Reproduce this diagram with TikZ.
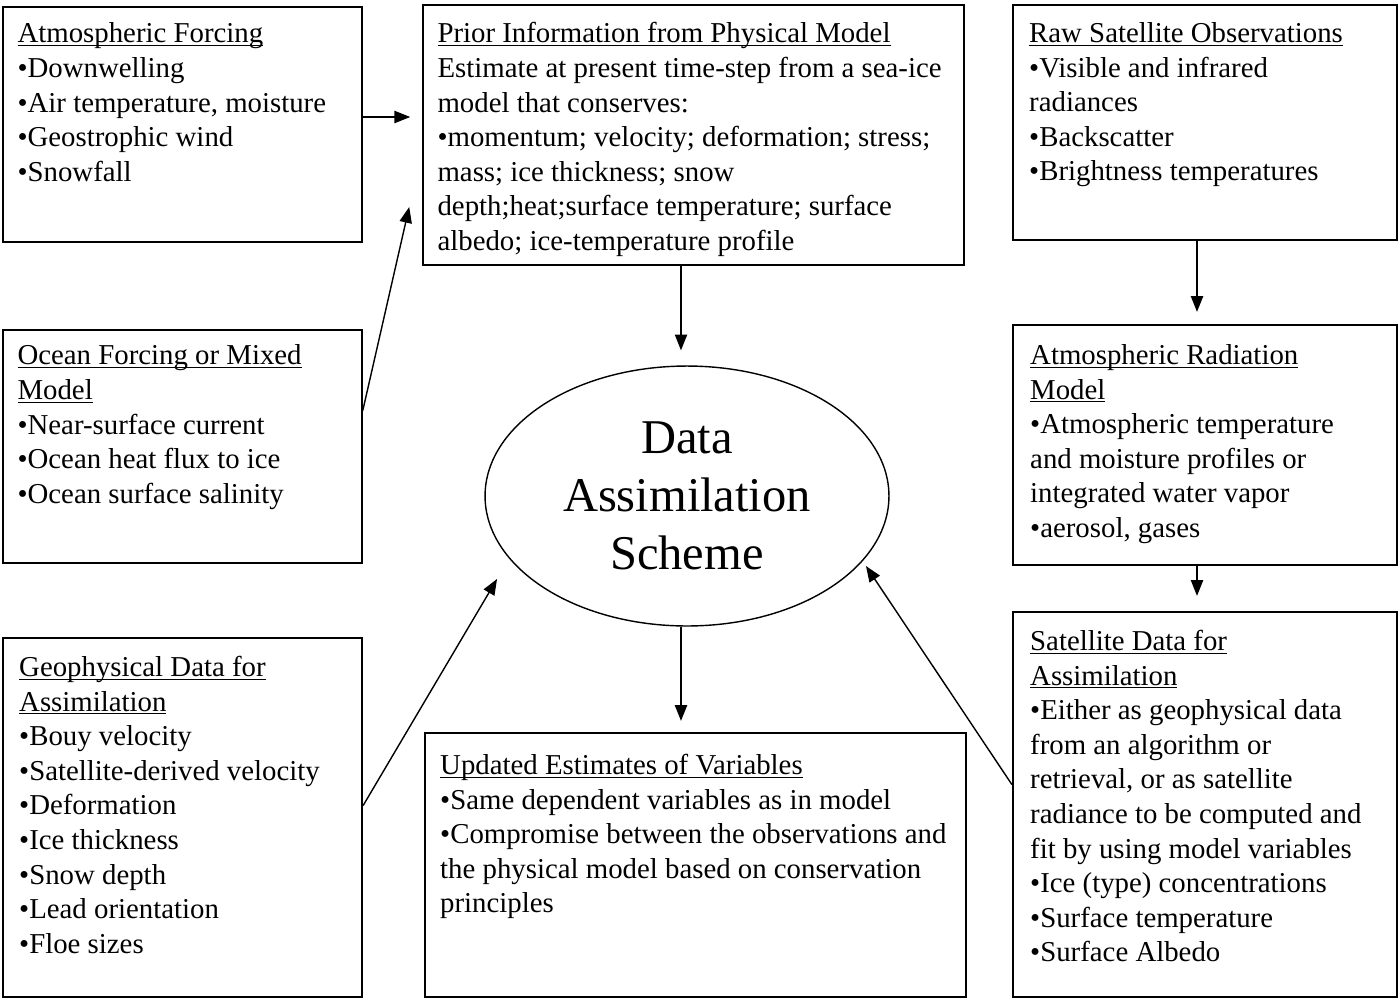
\documentclass[tikz,border=0pt]{standalone}
\usepackage{fontspec}
\setmainfont{Liberation Serif}
\usepackage{tikz}
\usetikzlibrary{shapes.geometric,arrows.meta,positioning,fit}

\newcommand{\hdr}[1]{\underline{\smash{#1}}}

\begin{document}
\begin{tikzpicture}[x=0.02cm, y=-0.02cm, >={Triangle[length=9pt,width=7pt]},
    box/.style={draw, line width=1.3pt, inner sep=0pt},
    thinbox/.style={draw, line width=0.9pt, inner sep=0pt},
    txt/.style={inner sep=0pt, align=left, font=\fontsize{16.4}{19.7}\selectfont},
    flow/.style={->, line width=0.8pt}]
  % page 1400 x 1002 px
  \useasboundingbox (0,0) rectangle (1400,1002);

  % boxes
  \node[thinbox, fit={(3,7) (362,242)}] (atm) {};
  \node[thinbox, fit={(423,5) (964,265)}] (prior) {};
  \node[box, fit={(1013,5) (1397,240)}] (raw) {};
  \node[thinbox, fit={(3,330) (362,563)}] (ocean) {};
  \node[box, fit={(1013,325) (1397,565)}] (atmrad) {};
  \node[box, fit={(3,638) (362,997)}] (geo) {};
  \node[box, fit={(425,733) (966,997)}] (upd) {};
  \node[box, fit={(1013,612) (1397,997)}] (sat) {};

  % central scheme
  \node[ellipse, draw, line width=0.8pt, minimum width=8.08cm, minimum height=5.2cm,
        inner sep=0pt, align=center, font=\fontsize{27.6}{33.2}\selectfont]
        (dasx) at (687,496) {Data\\Assimilation\\Scheme};

  % box texts
  \node[txt, below right=0.24cm and 0.3cm of atm.north west] (atmtxt)
    {\strut\hdr{Atmospheric Forcing}\\\textbullet Downwelling\\\textbullet Air temperature, moisture\\
     \textbullet Geostrophic wind\\\textbullet Snowfall};
  \node[txt, below right=0.28cm and 0.3cm of prior.north west] (priortxt)
    {\strut\hdr{Prior Information from Physical Model}\\Estimate at present time-step from a sea-ice\\
     model that conserves:\\\textbullet momentum; velocity; deformation; stress;\\mass; ice thickness; snow\\
     depth;heat;surface temperature; surface\\albedo; ice-temperature profile};
  \node[txt, below right=0.28cm and 0.34cm of raw.north west] (rawtxt)
    {\strut\hdr{Raw Satellite Observations}\\\textbullet Visible and infrared\\radiances\\
     \textbullet Backscatter\\\textbullet Brightness temperatures};
  \node[txt, below right=0.22cm and 0.3cm of ocean.north west] (oceantxt)
    {\strut\hdr{Ocean Forcing or Mixed}\\\hdr{Model}\\\textbullet Near-surface current\\
     \textbullet Ocean heat flux to ice\\\textbullet Ocean surface salinity};
  \node[txt, below right=0.32cm and 0.36cm of atmrad.north west] (atmradtxt)
    {\strut\hdr{Atmospheric Radiation}\\\hdr{Model}\\\textbullet Atmospheric temperature\\
     and moisture profiles or\\integrated water vapor\\\textbullet aerosol, gases};
  \node[txt, below right=0.3cm and 0.34cm of geo.north west] (geotxt)
    {\strut\hdr{Geophysical Data for}\\\hdr{Assimilation}\\\textbullet Bouy velocity\\
     \textbullet Satellite-derived velocity\\\textbullet Deformation\\\textbullet Ice thickness\\
     \textbullet Snow depth\\\textbullet Lead orientation\\\textbullet Floe sizes};
  \node[txt, below right=0.36cm and 0.32cm of upd.north west] (updtxt)
    {\strut\hdr{Updated Estimates of Variables}\\\textbullet Same dependent variables as in model\\
     \textbullet Compromise between the observations and\\the physical model based on conservation\\
     principles};
  \node[txt, below right=0.3cm and 0.36cm of sat.north west] (sattxt)
    {\strut\hdr{Satellite Data for}\\\hdr{Assimilation}\\\textbullet Either as geophysical data\\
     from an algorithm or\\retrieval, or as satellite\\radiance to be computed and\\
     fit by using model variables\\\textbullet Ice (type) concentrations\\\textbullet Surface temperature\\
     \textbullet Surface Albedo};

  % arrows into the prior box
  \draw[flow, shorten >=0.24cm] ([yshift=0.15cm]atm.east) -- ([yshift=0.15cm]atm.east -| prior.west);
  \draw[flow] ([yshift=0.72cm]ocean.east) -- ([shift={(-0.26cm,-1.44cm)}]prior.west);

  % model -> scheme -> update
  \draw[flow, shorten >=0.3cm] (prior.south -| 681,0) -- (dasx.north -| 681,0);
  \draw[flow, shorten >=0.22cm] (dasx.south -| 681,0) -- (upd.north -| 681,0);

  % satellite chain
  \draw[flow, shorten >=0.24cm] (raw.south -| 1197,0) -- (atmrad.north -| 1197,0);
  \draw[flow, shorten >=0.3cm] (atmrad.south -| 1197,0) -- (sat.north -| 1197,0);

  % observations into the scheme
  \draw[flow] ([yshift=0.24cm]geo.east) -- ([shift={(-3.8cm,-1.66cm)}]dasx.center);
  \draw[flow] ([yshift=0.4cm]sat.west) -- ([shift={(3.58cm,-1.4cm)}]dasx.center);
\end{tikzpicture}
\end{document}
